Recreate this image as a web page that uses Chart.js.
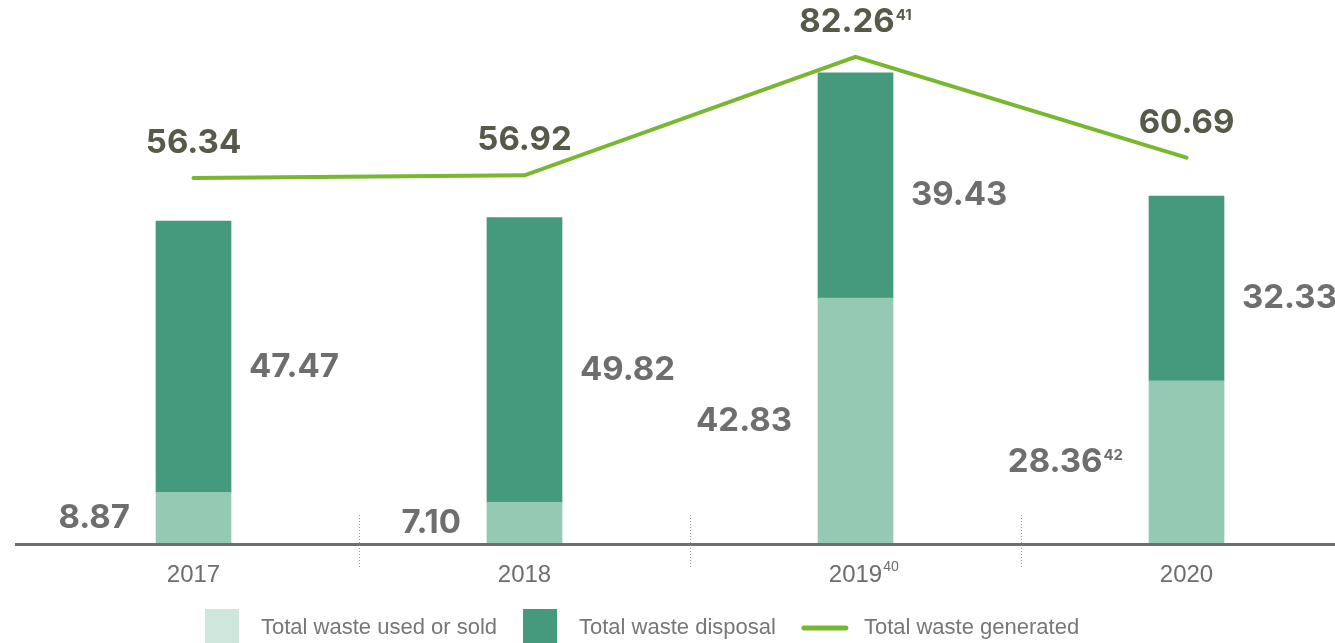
<!DOCTYPE html>
<html>
<head>
<meta charset="utf-8">
<script src="https://cdn.jsdelivr.net/npm/chart.js@4"></script>
<style>
  html, body { margin: 0; padding: 0; background: #fff; overflow: hidden; }
  #wrap { position: relative; width: 1360px; height: 643px; }
</style>
</head>
<body>
<div id="wrap"><canvas id="wasteChart"></canvas></div>
<script>
// values (thousand tonnes)
const years = ["2017", "2018", "2019", "2020"];
const yearNotes = ["", "", "40", ""];
const usedOrSold = [8.87, 7.10, 42.83, 28.36];
const disposal = [47.47, 49.82, 39.43, 32.33];
const generated = [56.34, 56.92, 82.26, 60.69];
// footnote markers shown as superscripts
const usedNotes = ["", "", "", "42"];
const disposalNotes = ["", "", "", ""];
const generatedNotes = ["", "", "41", ""];

const seriesNames = ["Total waste used or sold", "Total waste disposal", "Total waste generated"];

const LIGHT = "#95c9b4";
const DARK = "#45997c";
const GREEN = "#7ab730";
const NUM_GREY = "#6e6e6e";
const NUM_OLIVE = "#565a48";
const SANS = "'Liberation Sans', Arial, sans-serif";
const BOLD = "Inter, 'Liberation Sans', sans-serif";

function drawNumber(ctx, text, sup, x, y, align, color) {
  ctx.font = "bold 33px " + BOLD;
  const w1 = ctx.measureText(text).width;
  ctx.font = "bold 15px " + BOLD;
  const w2 = sup ? ctx.measureText(sup).width + 1 : 0;
  const total = w1 + w2;
  let left = x;
  if (align === "right") left = x - total;
  if (align === "center") left = x - total / 2;
  ctx.fillStyle = color;
  ctx.textAlign = "left";
  ctx.textBaseline = "middle";
  ctx.font = "bold 33px " + BOLD;
  ctx.fillText(text, left, y);
  if (sup) {
    ctx.font = "bold 15px " + BOLD;
    ctx.fillText(sup, left + w1 + 1, y - 6);
  }
}

const labelsPlugin = {
  id: "wasteLabels",
  afterDatasetsDraw(chart) {
    const ctx = chart.ctx;
    const area = chart.chartArea;
    const xs = chart.scales.x;
    ctx.save();

    // baseline
    ctx.strokeStyle = "#6d6d6d";
    ctx.lineWidth = 3;
    ctx.beginPath();
    ctx.moveTo(15, area.bottom + 1.5);
    ctx.lineTo(chart.width, area.bottom + 1.5);
    ctx.stroke();

    // dotted separators between years
    ctx.strokeStyle = "#9a9a9a";
    ctx.lineWidth = 1;
    ctx.setLineDash([1, 2]);
    for (let i = 0; i < years.length - 1; i++) {
      const sx = Math.round((xs.getPixelForValue(i) + xs.getPixelForValue(i + 1)) / 2) + 0.5;
      ctx.beginPath();
      ctx.moveTo(sx, area.bottom - 28);
      ctx.lineTo(sx, area.bottom + 24);
      ctx.stroke();
    }
    ctx.setLineDash([]);

    // footnote on the year tick
    ctx.font = "24px " + SANS;
    ctx.fillStyle = "#6d6d6d";
    ctx.textBaseline = "middle";
    ctx.textAlign = "left";
    years.forEach((yr, i) => {
      if (!yearNotes[i]) return;
      const w = ctx.measureText(yr).width;
      const tx = xs.getPixelForTick(i) + w / 2 + 1;
      ctx.font = "14px " + SANS;
      ctx.fillText(yearNotes[i], tx, area.bottom + 24);
      ctx.font = "24px " + SANS;
    });

    const m0 = chart.getDatasetMeta(0);
    const m1 = chart.getDatasetMeta(1);
    const m2 = chart.getDatasetMeta(2);
    years.forEach((_, i) => {
      const b0 = m0.data[i];
      const b1 = m1.data[i];
      const p = m2.data[i];
      drawNumber(ctx, usedOrSold[i].toFixed(2), usedNotes[i],
        b0.x - b0.width / 2 - 26, (b0.y + b0.base) / 2, "right", NUM_GREY);
      drawNumber(ctx, disposal[i].toFixed(2), disposalNotes[i],
        b1.x + b1.width / 2 + 18, (b1.y + b1.base) / 2 + 10, "left", NUM_GREY);
      drawNumber(ctx, generated[i].toFixed(2), generatedNotes[i],
        p.x, p.y - 35, "center", NUM_OLIVE);
    });
    ctx.restore();
  },
  afterDraw(chart) {
    // legend
    const ctx = chart.ctx;
    ctx.save();
    ctx.font = "22px " + SANS;
    ctx.textAlign = "left";
    ctx.textBaseline = "middle";
    const y = 628;
    let x = 205;
    const kinds = ["#cfe6dc", DARK, "line"];
    seriesNames.forEach((name, i) => {
      if (kinds[i] === "line") {
        ctx.strokeStyle = GREEN;
        ctx.lineWidth = 5;
        ctx.lineCap = "round";
        ctx.beginPath();
        ctx.moveTo(x + 2, y);
        ctx.lineTo(x + 44, y);
        ctx.stroke();
        x += 62;
      } else {
        ctx.fillStyle = kinds[i];
        ctx.fillRect(x, 609, 34, 34);
        x += 56;
      }
      ctx.fillStyle = "#777777";
      ctx.fillText(name, x, y);
      x += ctx.measureText(name).width + 26;
    });
    ctx.restore();
  }
};

new Chart(document.getElementById("wasteChart"), {
  data: {
    labels: years,
    datasets: [
      {
        type: "bar",
        label: seriesNames[0],
        data: usedOrSold,
        backgroundColor: LIGHT,
        stack: "waste",
        yAxisID: "y",
        barThickness: 75,
        order: 2,
      },
      {
        type: "bar",
        label: seriesNames[1],
        data: disposal,
        backgroundColor: DARK,
        stack: "waste",
        yAxisID: "y",
        barThickness: 75,
        order: 2,
      },
      {
        type: "line",
        label: seriesNames[2],
        data: generated,
        borderColor: GREEN,
        backgroundColor: GREEN,
        borderWidth: 4,
        borderCapStyle: "round",
        pointRadius: 0,
        tension: 0,
        yAxisID: "y2",
        clip: false,
        order: 0,
      },
    ],
  },
  options: {
    responsive: true,
    maintainAspectRatio: false,
    animation: false,
    layout: { padding: { left: 28, right: 8, top: 0, bottom: 0 } },
    plugins: {
      legend: { display: false },
      tooltip: { enabled: false },
    },
    scales: {
      x: {
        stacked: true,
        grid: { display: false, drawTicks: false },
        border: { display: false },
        ticks: {
          color: "#6d6d6d",
          font: { family: SANS, size: 24 },
          padding: 18,
        },
        afterFit(scale) {
          scale.height = 100;
        },
      },
      y: { display: false, stacked: true, min: 0, max: 95 },
      y2: { display: false, min: -21.8, max: 94.45 },
    },
  },
  plugins: [labelsPlugin],
});
</script>
</body>
</html>
